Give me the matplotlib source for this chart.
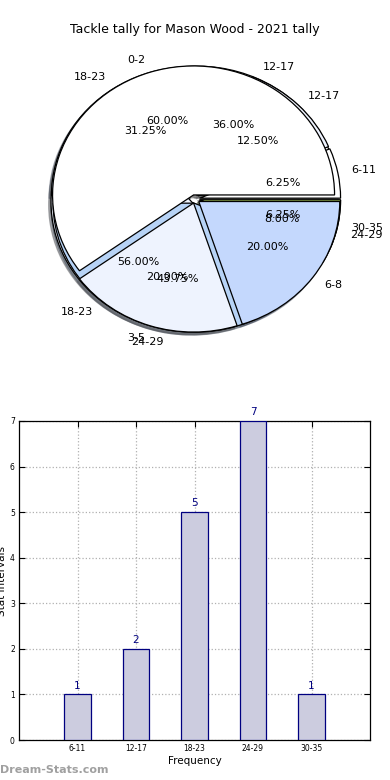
import matplotlib
matplotlib.use("Agg")
import matplotlib.pyplot as plt

# ---- data ----
title = "Tackle tally for Mason Wood - 2021 tally"

# pie layers (drawn bottom to top)
pieC_labels = ["12-17", "18-23", "24-29"]
pieC_values = [36, 56, 8]
pieA_labels = ["6-11", "12-17", "18-23", "24-29", "30-35"]
pieA_values = [1, 2, 5, 7, 1]
pieB_labels = ["0-2", "3-5", "6-8"]
pieB_values = [60, 20, 20]

pie_colors = ["#ffffff", "#eef3fe", "#c4d8fd", "#b7d3f6", "#cdef6a"]

bar_categories = ["6-11", "12-17", "18-23", "24-29", "30-35"]
bar_values = [1, 2, 5, 7, 1]

fig = plt.figure(figsize=(3.9, 7.8), dpi=100)
fig.patch.set_facecolor("white")

fig.text(0.5, 1 - 30 / 780, title, ha="center", va="center", fontsize=9)

# ---- pie axes ----
rx, ry = 141, 129
cx, cy = 195, 199
lim = 1.3
axp = fig.add_axes([(cx - lim * rx) / 390, (780 - cy - lim * ry) / 780,
                    2 * lim * rx / 390, 2 * lim * ry / 780])
for labels, values in [(pieC_labels, pieC_values),
                       (pieA_labels, pieA_values),
                       (pieB_labels, pieB_values)]:
    wedges, texts, autotexts = axp.pie(
        values, labels=labels, colors=pie_colors[:len(values)],
        explode=[0.033] * len(values), autopct="%.2f%%",
        shadow=dict(ox=-0.012, oy=-0.016, shade=0.6),
        startangle=0, labeldistance=1.1, pctdistance=0.6,
        wedgeprops=dict(edgecolor="black", linewidth=0.9),
        textprops=dict(fontsize=8))
axp.set_aspect("auto")
axp.set_xlim(-lim, lim)
axp.set_ylim(-lim, lim)
axp.axis("off")

# ---- bar axes ----
axb = fig.add_axes([19 / 390, 40 / 780, 351 / 390, 319 / 780])
x = list(range(len(bar_categories)))
axb.bar(x, bar_values, width=0.45, color="#ccccdf", edgecolor="#000080",
        linewidth=0.9, zorder=3)
for xi, v in zip(x, bar_values):
    axb.text(xi, v + 0.08, str(v), ha="center", va="bottom", fontsize=7.5,
             color="#000080")
axb.set_xlim(-1, 5)
axb.set_ylim(0, 7)
axb.set_xticks(x)
axb.set_xticklabels(bar_categories)
axb.set_yticks(range(0, 8))
axb.tick_params(axis="both", labelsize=5.5, direction="in", top=True,
                right=True, length=4, width=0.8, pad=3)
axb.grid(True, linestyle=":", color="#b0b0b0", linewidth=0.9, zorder=0)
axb.set_axisbelow(True)
for s in axb.spines.values():
    s.set_linewidth(0.9)
axb.set_xlabel("Frequency", fontsize=7.5, labelpad=2)
axb.set_ylabel("Stat Intervals", fontsize=7.5)
axb.yaxis.set_label_coords(-0.035, 0.5)

fig.text(0.0, 1 - 770 / 780, "Dream-Stats.com", ha="left", va="center",
         fontsize=8, color="#a0a0a0", fontweight="bold")

fig.savefig("out.png", dpi=100, facecolor="white")
